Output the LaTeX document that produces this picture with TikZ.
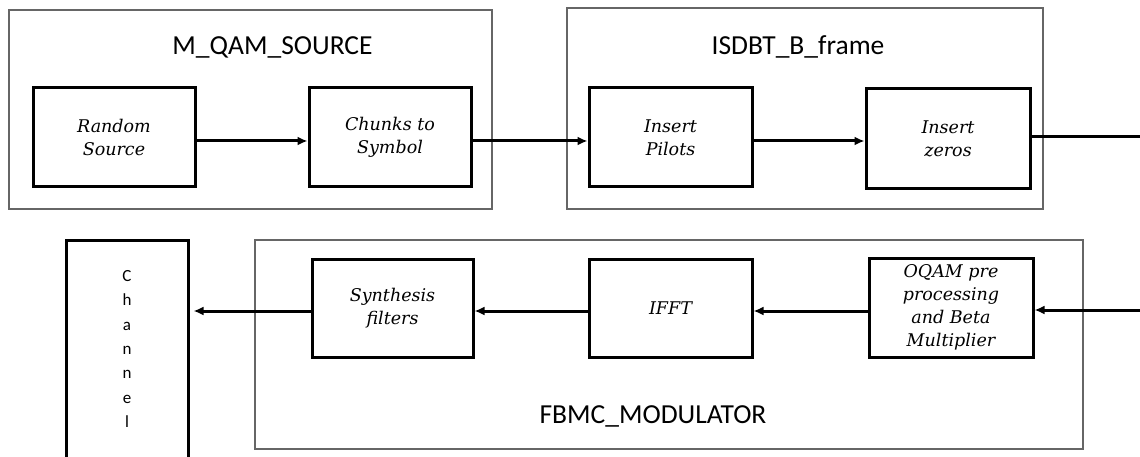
\documentclass[tikz,border=0pt]{standalone}
\usepackage{fontspec}
\newfontfamily\calfont{Carlito}
\newfontfamily\blkfont{DejaVu Serif}
\usetikzlibrary{arrows.meta}
\begin{document}
\begin{tikzpicture}[x=1pt,y=-1pt,
  frame/.style={draw=black!60,line width=1.2pt,minimum width=#1,inner sep=0pt},
  blk/.style={draw=black,line width=3pt,align=center,inner sep=0pt,
    font=\blkfont\fontsize{17.5}{23}\selectfont\itshape},
  title/.style={font=\calfont\fontsize{27.5}{32}\selectfont,inner sep=0pt,anchor=base},
  arr/.style={line width=3pt,-{Latex[length=10pt,width=9pt]}},
  ln/.style={line width=3pt}]
\useasboundingbox (0,0) rectangle (1140,457);
\clip (0,0) rectangle (1140,457);
% frames
\node[frame=483pt,minimum height=199pt] (f1) at (250.5,109.5) {};
\node[frame=476pt,minimum height=201pt] (f2) at (805,108.5) {};
\node[frame=828pt,minimum height=209pt] (f3) at (669,344.5) {};
\node[title] (t1) at (272.5,55) {M\_QAM\_SOURCE};
\node[title] (t2) at (798,54.5) {ISDBT\_B\_frame};
\node[title] (t3) at (653,423) {FBMC\_MODULATOR};
% blocks
\node[blk,minimum width=162pt,minimum height=99pt] (rs) at (114,137.5) {Random\\Source};
\node[blk,minimum width=162pt,minimum height=99pt] (cs) at (390,137.5) {Chunks to\\Symbol};
\node[blk,minimum width=163pt,minimum height=99pt] (ip) at (670.5,137.5) {Insert\\Pilots};
\node[blk,minimum width=164pt,minimum height=100pt] (iz) at (948,139) {Insert\\zeros};
\node[blk,minimum width=161pt,minimum height=98pt] (sf) at (392.5,308) {Synthesis\\filters};
\node[blk,minimum width=163pt,minimum height=98pt] (ifft) at (670.5,308) {IFFT};
\node[blk,minimum width=164pt,minimum height=99pt] (oq) at (951,307.5) {OQAM pre\\processing\\and Beta\\Multiplier};
\node[draw=black,line width=3pt,minimum width=122pt,minimum height=240pt,inner sep=0pt] (ch) at (127,360) {};
\node[font=\calfont\fontsize{17}{24.3}\selectfont,align=center,inner sep=0pt] (cht) at (127,349) {C\\h\\a\\n\\n\\e\\l};
% connectors
\coordinate (out1) at (1140,137);
\coordinate (in2) at (1140,310);
\draw[arr] (rs.east |- 0,141) -- (cs.west |- 0,141);
\draw[arr] (cs.east |- 0,141) -- (ip.west |- 0,141);
\draw[arr] (ip.east |- 0,141) -- (iz.west |- 0,141);
\draw[ln] (iz.east |- out1) -- (out1);
\draw[arr] (in2) -- (oq.east |- in2);
\draw[arr] (oq.west |- 0,311) -- (ifft.east |- 0,311);
\draw[arr] (ifft.west |- 0,311) -- (sf.east |- 0,311);
\draw[arr,shorten >=4pt] (sf.west |- 0,311) -- (ch.east |- 0,311);
\end{tikzpicture}
\end{document}
